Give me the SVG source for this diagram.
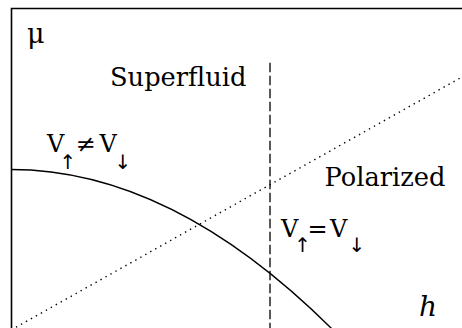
<svg xmlns="http://www.w3.org/2000/svg" width="462" height="328" viewBox="0 0 462 328">
<style>
text{font-family:'DejaVu Serif','Liberation Serif',serif;fill:#000}
.big{font-size:25.7px}
.v{font-size:24px}
.sub{font-size:20px;font-family:'DejaVu Sans',sans-serif}
</style>
<rect width="462" height="328" fill="#fff"/>
<g id="axes" fill="none" stroke="#000" stroke-width="1.6">
<path d="M11.5,330 V8.5 H462"/>
</g>
<g id="connectors" fill="none" stroke="#000">
<path id="boundary-curve" d="M11,169.5 Q175.5,169.5 340,337" stroke-width="1.4"/>
<path id="dashed-line" d="M270,62.7 V330" stroke-width="1.3" stroke-dasharray="9.5 3.5"/>
<path id="dotted-line" d="M11,330 L462,77" stroke-width="1.4" stroke-dasharray="1.4 4.3"/>
</g>
<g id="label-mu"><text x="27" y="43" font-size="27">μ</text></g>
<g id="label-superfluid"><text class="big" x="110" y="86">Superfluid</text></g>
<g id="label-polarized"><text class="big" x="324.5" y="186">Polarized</text></g>
<g id="label-h"><text x="419" y="315.5" font-size="28" font-style="italic">h</text></g>
<g id="label-neq">
<text class="v" x="47" y="152">V<tspan class="sub" x="59.6" y="169">↑</tspan><tspan x="75.5" y="152">≠</tspan><tspan x="99.5" y="152">V</tspan><tspan class="sub" x="114.6" y="169">↓</tspan></text>
</g>
<g id="label-eq">
<text class="v" x="281" y="237">V<tspan class="sub" x="294.3" y="252">↑</tspan><tspan x="307.5" y="237">=</tspan><tspan x="330" y="237">V</tspan><tspan class="sub" x="348.6" y="252">↓</tspan></text>
</g>
</svg>
